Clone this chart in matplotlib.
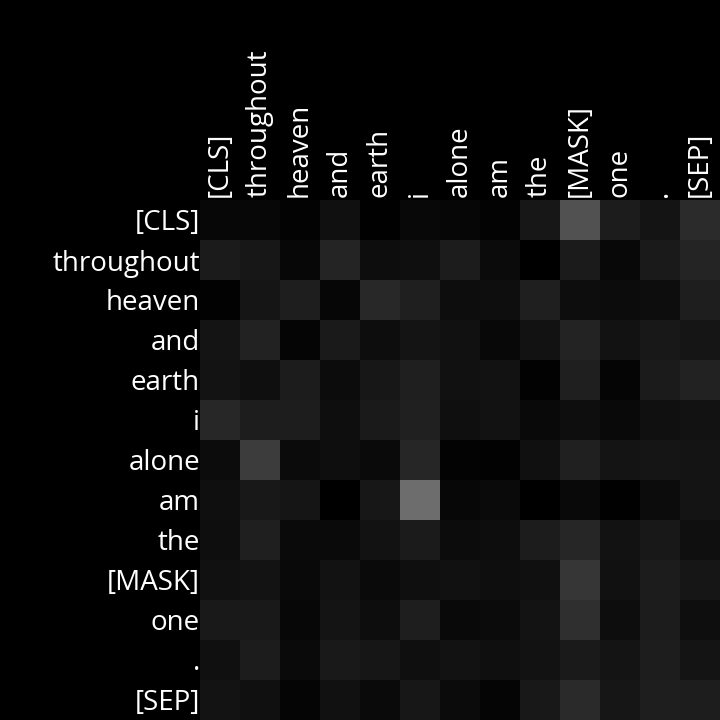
import numpy as np
import matplotlib
matplotlib.use("Agg")
import matplotlib.pyplot as plt

tokens = ["[CLS]", "throughout", "heaven", "and", "earth", "i", "alone",
          "am", "the", "[MASK]", "one", ".", "[SEP]"]

# attention weights (read from grayscale intensity, 0..1)
row_cls        = [0x07, 0x07, 0x03, 0x10, 0x01, 0x08, 0x06, 0x03, 0x17, 0x52, 0x1c, 0x14, 0x2b]
row_throughout = [0x1b, 0x17, 0x07, 0x24, 0x0d, 0x0f, 0x1c, 0x0b, 0x00, 0x1b, 0x08, 0x1a, 0x25]
row_heaven     = [0x02, 0x15, 0x1e, 0x06, 0x28, 0x1f, 0x0d, 0x0e, 0x1f, 0x0d, 0x0c, 0x0d, 0x1e]
row_and        = [0x14, 0x22, 0x05, 0x1a, 0x0d, 0x14, 0x11, 0x08, 0x12, 0x23, 0x12, 0x18, 0x15]
row_earth      = [0x13, 0x0f, 0x1c, 0x0c, 0x17, 0x1f, 0x11, 0x12, 0x02, 0x1f, 0x05, 0x1b, 0x22]
row_i          = [0x27, 0x1d, 0x1d, 0x0e, 0x1a, 0x20, 0x0f, 0x12, 0x09, 0x0e, 0x09, 0x10, 0x12]
row_alone      = [0x0c, 0x3d, 0x0b, 0x0e, 0x0a, 0x26, 0x03, 0x02, 0x10, 0x20, 0x14, 0x15, 0x14]
row_am         = [0x0f, 0x18, 0x15, 0x00, 0x17, 0x6d, 0x07, 0x0a, 0x00, 0x09, 0x01, 0x0c, 0x14]
row_the        = [0x0e, 0x1f, 0x0a, 0x0a, 0x12, 0x1b, 0x0c, 0x0d, 0x1c, 0x26, 0x12, 0x18, 0x0f]
row_mask       = [0x11, 0x13, 0x09, 0x12, 0x0a, 0x0f, 0x11, 0x0e, 0x10, 0x36, 0x11, 0x1c, 0x16]
row_one        = [0x19, 0x19, 0x07, 0x14, 0x0d, 0x1e, 0x09, 0x0b, 0x13, 0x2f, 0x0d, 0x1c, 0x0e]
row_dot        = [0x10, 0x1c, 0x0a, 0x19, 0x16, 0x0f, 0x12, 0x0f, 0x12, 0x1a, 0x14, 0x1d, 0x14]
row_sep        = [0x13, 0x10, 0x05, 0x11, 0x0a, 0x17, 0x0b, 0x05, 0x18, 0x2a, 0x16, 0x1e, 0x1d]

attention = np.array([row_cls, row_throughout, row_heaven, row_and, row_earth, row_i,
                      row_alone, row_am, row_the, row_mask, row_one, row_dot, row_sep],
                     dtype=float) / 255.0

plt.rcParams['font.family'] = ['Open Sans', 'DejaVu Sans']

fig = plt.figure(figsize=(7.2, 7.2), dpi=100, facecolor='black')
ax = fig.add_axes([200/720, 0, 520/720, 520/720])
ax.set_facecolor('black')
ax.imshow(attention, cmap='gray', vmin=0, vmax=1, aspect='auto', interpolation='nearest')

ax.set_xticks(range(len(tokens)))
ax.set_yticks(range(len(tokens)))
ax.set_xticklabels(tokens, rotation=90, color='white', fontsize=20)
ax.set_yticklabels(tokens, color='white', fontsize=20)
ax.xaxis.tick_top()
ax.tick_params(axis='y', length=0, pad=0)
ax.tick_params(axis='x', length=0, pad=2)
for s in ax.spines.values():
    s.set_visible(False)

fig.savefig("out.png", dpi=100, facecolor='black')
